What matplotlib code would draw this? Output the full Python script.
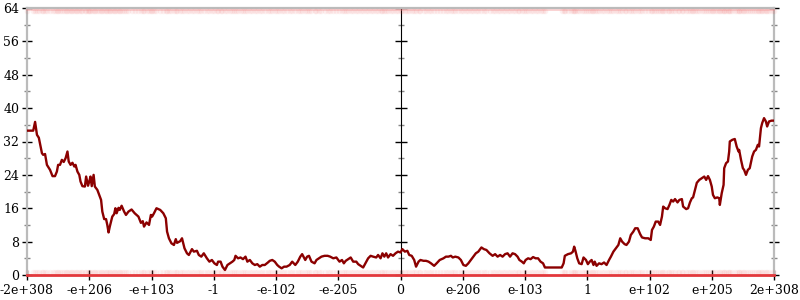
import numpy as np
import matplotlib.pyplot as plt
from matplotlib.ticker import MultipleLocator, NullFormatter


# Tick labels along x (positions 0..12)
X_TICK_LABELS = ["-2e+308", "-e+206", "-e+103", "-1", "-e-102", "-e-205", "0",
                 "e-206", "e-103", "1", "e+102", "e+205", "2e+308"]

# Line series: position along the axis and value
pos = [
    0.00, 0.10, 0.13, 0.16, 0.19, 0.24, 0.26, 0.29, 0.32, 0.37, 0.41, 0.45, 0.48, 0.50,
    0.53, 0.56, 0.59, 0.62, 0.65, 0.67, 0.70, 0.73, 0.76, 0.78, 0.81, 0.84, 0.86, 0.89,
    0.93, 0.95, 0.98, 1.00, 1.02, 1.04, 1.07, 1.09, 1.13, 1.16, 1.19, 1.21, 1.24, 1.27,
    1.29, 1.31, 1.33, 1.37, 1.40, 1.42, 1.44, 1.47, 1.49, 1.52, 1.56, 1.59, 1.63, 1.68,
    1.73, 1.79, 1.83, 1.86, 1.88, 1.92, 1.96, 1.99, 2.01, 2.04, 2.08, 2.14, 2.19, 2.23,
    2.25, 2.28, 2.32, 2.36, 2.39, 2.41, 2.46, 2.49, 2.53, 2.57, 2.60, 2.65, 2.68, 2.73,
    2.76, 2.80, 2.84, 2.89, 2.93, 2.97, 3.01, 3.05, 3.07, 3.11, 3.14, 3.18, 3.22, 3.26,
    3.30, 3.33, 3.35, 3.39, 3.43, 3.47, 3.51, 3.54, 3.58, 3.62, 3.66, 3.70, 3.74, 3.78,
    3.82, 3.87, 3.90, 3.94, 3.98, 4.02, 4.05, 4.09, 4.13, 4.17, 4.22, 4.26, 4.31, 4.35,
    4.39, 4.42, 4.47, 4.50, 4.53, 4.57, 4.62, 4.65, 4.69, 4.73, 4.78, 4.83, 4.87, 4.92,
    4.97, 5.02, 5.06, 5.09, 5.12, 5.16, 5.20, 5.24, 5.29, 5.32, 5.36, 5.40, 5.45, 5.48,
    5.52, 5.56, 5.61, 5.64, 5.68, 5.71, 5.74, 5.77, 5.80, 5.84, 5.88, 5.92, 5.96, 6.00,
    6.03, 6.07, 6.11, 6.14, 6.18, 6.22, 6.25, 6.29, 6.32, 6.37, 6.41, 6.45, 6.49, 6.54,
    6.58, 6.63, 6.69, 6.73, 6.77, 6.81, 6.84, 6.88, 6.93, 6.97, 7.01, 7.05, 7.09, 7.13,
    7.17, 7.21, 7.25, 7.30, 7.34, 7.38, 7.43, 7.48, 7.52, 7.56, 7.60, 7.64, 7.68, 7.72,
    7.76, 7.80, 7.84, 7.88, 7.91, 7.95, 7.98, 8.01, 8.05, 8.09, 8.13, 8.17, 8.21, 8.25,
    8.29, 8.32, 8.59, 8.62, 8.64, 8.69, 8.74, 8.77, 8.79, 8.81, 8.84, 8.87, 8.91, 8.94,
    8.98, 9.01, 9.04, 9.07, 9.10, 9.12, 9.15, 9.19, 9.23, 9.27, 9.31, 9.35, 9.38, 9.42,
    9.46, 9.50, 9.53, 9.56, 9.60, 9.63, 9.67, 9.70, 9.74, 9.77, 9.81, 9.85, 9.88, 9.93,
    9.98, 10.02, 10.04, 10.07, 10.10, 10.14, 10.17, 10.20, 10.22, 10.25, 10.29, 10.32,
    10.35, 10.38, 10.41, 10.45, 10.48, 10.52, 10.54, 10.59, 10.62, 10.65, 10.68, 10.70,
    10.73, 10.76, 10.80, 10.84, 10.88, 10.91, 10.94, 10.97, 11.00, 11.02, 11.05, 11.09,
    11.12, 11.13, 11.16, 11.19, 11.20, 11.23, 11.26, 11.28, 11.29, 11.33, 11.37, 11.40,
    11.43, 11.44, 11.47, 11.50, 11.52, 11.55, 11.58, 11.61, 11.65, 11.68, 11.71, 11.74,
    11.76, 11.79, 11.81, 11.84, 11.87, 11.89, 11.92, 11.96, 12.00,
]
value = [
    34.6, 34.6, 36.7, 33.6, 32.9, 29.2, 28.8, 29.0, 26.4, 25.2, 23.7, 23.7, 24.8, 26.4,
    26.4, 27.6, 27.1, 28.0, 29.6, 27.2, 26.4, 26.9, 26.0, 26.4, 24.8, 24.0, 22.4, 21.3,
    21.2, 23.6, 21.4, 22.4, 23.6, 21.3, 24.0, 21.2, 20.4, 19.2, 18.0, 15.2, 13.4, 13.4,
    12.0, 10.2, 11.6, 14.0, 14.6, 16.0, 14.8, 16.1, 15.6, 16.6, 15.2, 14.4, 15.2, 15.7,
    14.8, 14.0, 12.5, 12.9, 11.6, 12.6, 12.0, 14.4, 14.0, 14.8, 16.0, 15.6, 14.8, 13.6,
    10.4, 8.8, 7.6, 7.2, 8.6, 7.7, 8.1, 8.8, 6.4, 5.2, 4.8, 6.2, 5.6, 5.8,
    4.8, 4.4, 5.2, 4.0, 3.2, 3.6, 2.8, 2.4, 3.2, 3.2, 2.0, 1.2, 2.4, 2.8,
    3.2, 3.6, 4.6, 4.0, 4.2, 3.8, 4.4, 3.2, 3.6, 2.8, 2.4, 2.6, 2.0, 2.4,
    2.4, 3.0, 3.4, 3.6, 3.2, 2.4, 2.0, 1.6, 2.0, 2.0, 2.4, 3.2, 2.4, 3.2,
    4.4, 5.0, 3.6, 4.4, 4.6, 3.2, 2.8, 3.6, 4.0, 4.4, 4.6, 4.6, 4.4, 4.0,
    4.2, 3.2, 3.6, 2.8, 3.4, 3.8, 4.2, 3.2, 3.2, 2.6, 2.2, 1.8, 3.2, 4.0,
    4.6, 4.4, 4.2, 4.8, 4.0, 5.2, 4.4, 5.2, 4.2, 5.0, 4.6, 5.2, 5.6, 5.4,
    6.2, 5.6, 5.8, 4.8, 4.6, 3.6, 2.0, 3.2, 3.6, 3.4, 3.4, 3.2, 2.8, 2.2,
    2.8, 3.6, 4.0, 4.4, 4.4, 4.6, 4.2, 4.4, 4.2, 3.6, 2.4, 2.2, 2.8, 3.6,
    4.4, 5.2, 5.6, 6.6, 6.2, 6.0, 5.2, 4.6, 5.0, 4.4, 4.8, 4.4, 5.0, 5.2,
    4.4, 5.2, 5.0, 4.4, 3.6, 3.2, 2.8, 3.6, 4.0, 3.8, 4.3, 4.0, 4.0, 3.2,
    2.8, 1.8, 1.8, 2.8, 4.6, 5.0, 5.2, 5.6, 6.8, 5.8, 4.0, 2.8, 2.6, 4.2,
    3.6, 2.6, 3.2, 3.6, 2.4, 3.2, 2.2, 2.8, 2.6, 3.0, 2.4, 3.6, 4.4, 5.6,
    6.4, 7.2, 8.8, 8.0, 7.4, 7.2, 8.0, 9.6, 10.4, 11.2, 11.2, 9.8, 9.0, 8.8,
    8.8, 8.4, 10.8, 11.6, 12.8, 12.8, 12.0, 14.0, 16.4, 16.0, 15.8, 16.8,
    18.0, 17.6, 18.2, 17.4, 18.0, 18.2, 16.4, 15.8, 16.0, 17.4, 18.4, 18.6,
    20.4, 22.1, 22.8, 23.2, 23.6, 22.8, 23.7, 22.8, 21.2, 19.2, 18.4, 18.6,
    18.4, 16.8, 19.6, 21.6, 25.6, 26.8, 27.2, 29.6, 32.0, 32.4, 32.6, 30.8,
    29.6, 30.0, 27.6, 25.6, 25.2, 24.0, 25.2, 25.6, 28.4, 29.6, 30.0, 31.2,
    30.8, 35.2, 36.4, 37.6, 36.8, 35.6, 36.8, 37.0, 37.0,
]

Y_MAX = 64
AXIS_GRAY = "#bbbbbb"
LINE_COLOR = "#8b0000"
EDGE_RED = "#e3383c"


def style_yaxis(axis_obj):
    axis_obj.set_major_locator(MultipleLocator(8))
    axis_obj.set_minor_locator(MultipleLocator(4))


def graph():
    plt.rcParams["font.family"] = ["DejaVu Serif"]
    fig = plt.figure(figsize=(8, 3), dpi=100)
    ax = fig.add_axes([27 / 800, 25 / 300, 747 / 800, 267 / 300])

    x = np.array(pos)
    y = np.array(value)

    # faint clipped-point bands at top and bottom
    ax.plot([0, 12], [0, 0], color=EDGE_RED, lw=2.0, clip_on=False, zorder=4)
    ax.scatter(x, np.full(x.size, 0.8), s=16, color="#ee4444",
               alpha=0.06, lw=0, clip_on=False, zorder=3)
    ax.scatter(x, np.full(x.size, 63.3), s=16, color="#ee4444",
               alpha=0.08, lw=0, clip_on=False, zorder=3)
    ax.plot([0, 12], [63.6, 63.6], color="#f08080", lw=1.2, alpha=0.4,
            clip_on=False, zorder=3)

    ax.plot(x, y, color=LINE_COLOR, lw=1.7, zorder=5)

    ax.set_xlim(0, 12)
    ax.set_ylim(0, Y_MAX)

    for side in ["left", "right", "top"]:
        ax.spines[side].set_color(AXIS_GRAY)
        ax.spines[side].set_linewidth(1.6)
    ax.spines["bottom"].set_visible(False)

    ax.set_xticks(range(13))
    ax.set_xticklabels(X_TICK_LABELS)
    style_yaxis(ax.yaxis)

    ax.tick_params(axis="both", which="major", direction="inout", length=7,
                   width=1, color="black", labelsize=9, pad=2)
    ax.tick_params(axis="y", which="minor", direction="inout", length=4,
                   width=1, color="#888888")
    ax.tick_params(axis="y", right=True, which="both")
    ax.tick_params(axis="x", pad=3)

    # middle axis at zero
    mid = ax.secondary_yaxis(0.5)
    style_yaxis(mid.yaxis)
    mid.yaxis.set_major_formatter(NullFormatter())
    mid.spines["left"].set_color(AXIS_GRAY)
    mid.spines["left"].set_linewidth(1.6)
    mid.tick_params(which="major", direction="inout", length=8, width=1,
                    color="black", labelleft=False, labelright=False)
    mid.tick_params(which="minor", direction="inout", length=4, width=1,
                    color="#888888")

    fig.savefig("out.png", dpi=100)


def main():
    graph()


if __name__ == "__main__":
    main()
